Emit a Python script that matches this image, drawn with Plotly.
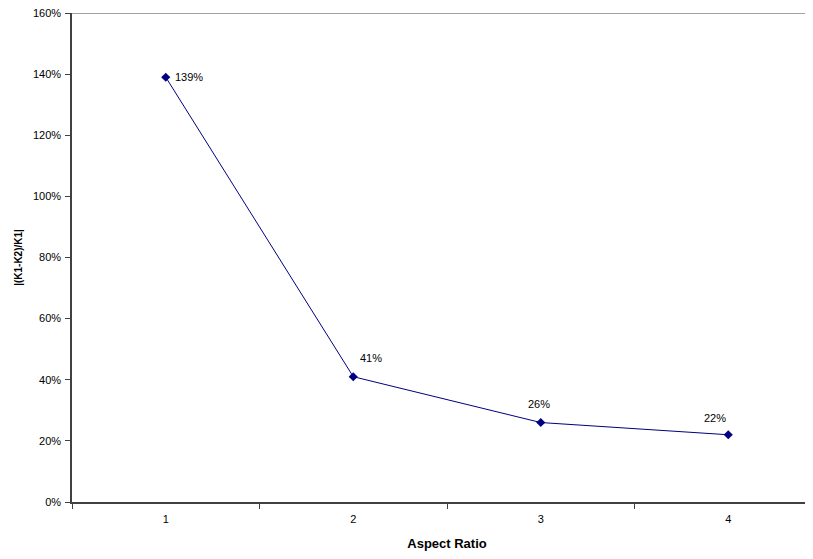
import plotly.graph_objects as go

categories = ["1", "2", "3", "4"]
values = [1.39, 0.41, 0.26, 0.22]
labels = ["139%", "41%", "26%", "22%"]

# label offsets in pixels (style only)
label_dx = [23, 18, -2, -13]
label_dy = [0, 19, 19, 17]

fig = go.Figure()
fig.add_trace(go.Scatter(
    x=categories, y=values, mode="lines+markers",
    line=dict(color="#000080", width=1),
    marker=dict(symbol="diamond", size=7, color="#000080"),
    cliponaxis=False, showlegend=False,
))

# on a category axis, annotation x is the category's index
for i, (v, t, dx, dy) in enumerate(zip(values, labels, label_dx, label_dy)):
    fig.add_annotation(x=i, y=v, text=t, showarrow=False, xanchor="center",
                       yanchor="middle", xshift=dx, yshift=dy,
                       font=dict(family="Arial, Liberation Sans", size=11, color="black"))

fig.add_shape(type="line", xref="paper", yref="y", x0=0, x1=1, y0=1.6, y1=1.6,
              line=dict(color="#808080", width=1.5))

fig.update_layout(
    width=820, height=543,
    margin=dict(l=64, r=6, t=5, b=49),
    paper_bgcolor="white", plot_bgcolor="white",
    font=dict(family="Arial, Liberation Sans", size=11, color="black"),
    xaxis=dict(
        type="category", tickson="boundaries", ticks="outside", ticklen=5,
        tickcolor="#404040", showline=True, linecolor="#404040", linewidth=1.5,
        showgrid=False, zeroline=False, range=[-0.5, 3.5],
        ticklabelstandoff=6, automargin=False,
        title=dict(text="<b>Aspect Ratio</b>", font=dict(size=13), standoff=17),
        tickfont=dict(size=11),
    ),
    yaxis=dict(
        range=[0, 1.6], dtick=0.2, tickformat=".0%", ticks="outside", ticklen=5,
        tickcolor="#404040", showline=True, linecolor="#404040", linewidth=1.5,
        showgrid=False, zeroline=False, ticklabelstandoff=2,
        ticklabeloverflow="allow", automargin=False,
        title=dict(text="<b>|(K1-K2)/K1|</b>", font=dict(size=10), standoff=8),
        tickfont=dict(size=11),
    ),
)

fig.write_html("out.html")
